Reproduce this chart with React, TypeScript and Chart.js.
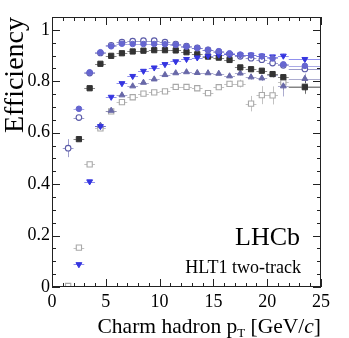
import { useEffect, useRef } from "react";
import { Chart, registerables } from "chart.js";

Chart.register(...registerables);

// ---- data ----
const binCenters = [1.5, 2.5, 3.5, 4.5, 5.5, 6.5, 7.5, 8.5, 9.5, 10.5, 11.5, 12.5, 13.5, 14.5, 15.5, 16.5, 17.5, 18.5, 19.5, 20.5, 21.5, 23.5];
const binHalfWidths = [0.5, 0.5, 0.5, 0.5, 0.5, 0.5, 0.5, 0.5, 0.5, 0.5, 0.5, 0.5, 0.5, 0.5, 0.5, 0.5, 0.5, 0.5, 0.5, 0.5, 0.5, 1.5];

const blueCircles = [null, 0.693, 0.835, 0.913, 0.936, 0.946, 0.945, 0.945, 0.945, 0.944, 0.942, 0.935, 0.929, 0.922, 0.917, 0.909, 0.904, 0.901, 0.897, 0.889, 0.866, 0.86];
const blueCirclesErr = [0, 0.006, 0.004, 0.003, 0.003, 0.003, 0.003, 0.003, 0.003, 0.003, 0.003, 0.003, 0.003, 0.003, 0.004, 0.004, 0.004, 0.005, 0.005, 0.006, 0.008, 0.008];

const downTriangles = [null, 0.088, 0.41, 0.625, 0.739, 0.792, 0.82, 0.84, 0.853, 0.866, 0.877, 0.886, 0.892, 0.899, 0.903, 0.905, 0.903, 0.903, 0.899, 0.896, 0.899, 0.886];
const downTrianglesErr = [0, 0.006, 0.005, 0.004, 0.004, 0.004, 0.004, 0.004, 0.004, 0.004, 0.004, 0.004, 0.004, 0.004, 0.005, 0.005, 0.005, 0.006, 0.006, 0.007, 0.008, 0.008];

const openCircles = [0.54, 0.659, 0.832, 0.91, 0.94, 0.952, 0.956, 0.958, 0.958, 0.952, 0.945, 0.937, 0.93, 0.922, 0.915, 0.905, 0.897, 0.89, 0.884, 0.871, 0.862, 0.848];
const openCirclesErr = [0.035, 0.008, 0.005, 0.004, 0.003, 0.003, 0.003, 0.003, 0.003, 0.003, 0.003, 0.003, 0.004, 0.004, 0.004, 0.005, 0.005, 0.006, 0.006, 0.007, 0.008, 0.008];

const blackSquares = [null, 0.575, 0.773, 0.868, 0.899, 0.909, 0.916, 0.919, 0.921, 0.921, 0.92, 0.913, 0.905, 0.896, 0.892, 0.883, 0.854, 0.847, 0.841, 0.828, 0.816, 0.777];
const blackSquaresErr = [0, 0.005, 0.004, 0.003, 0.003, 0.003, 0.003, 0.003, 0.003, 0.003, 0.003, 0.004, 0.004, 0.004, 0.005, 0.005, 0.006, 0.006, 0.007, 0.008, 0.012, 0.025];

const upTriangles = [null, null, null, 0.628, 0.686, 0.746, 0.781, 0.795, 0.808, 0.825, 0.832, 0.836, 0.833, 0.832, 0.83, 0.82, 0.831, 0.816, 0.812, 0.826, 0.781, 0.81];
const upTrianglesErr = [0, 0, 0, 0.006, 0.005, 0.005, 0.005, 0.005, 0.005, 0.005, 0.005, 0.005, 0.006, 0.006, 0.007, 0.008, 0.009, 0.01, 0.011, 0.012, 0.04, 0.02];

const openSquares = [0.004, 0.153, 0.477, 0.617, 0.683, 0.719, 0.738, 0.752, 0.757, 0.761, 0.778, 0.778, 0.773, 0.754, 0.777, 0.79, 0.791, 0.713, 0.746, 0.745, 0.796, 0.78];
const openSquaresErr = [0.004, 0.006, 0.006, 0.006, 0.006, 0.006, 0.006, 0.006, 0.006, 0.007, 0.007, 0.008, 0.008, 0.009, 0.01, 0.012, 0.015, 0.03, 0.035, 0.035, 0.03, 0.03];

const xTickValues = [0, 5, 10, 15, 20, 25];
const yTickValues = [0, 0.2, 0.4, 0.6, 0.8, 1];

const FONT = "'Liberation Serif', 'DejaVu Serif', serif";

function makePoints(values: (number | null)[], errs: number[]) {
  const pts: any[] = [];
  values.forEach((v, i) => {
    if (v !== null) pts.push({ x: binCenters[i], y: v, xe: binHalfWidths[i], ye: errs[i] });
  });
  return pts;
}

const errorBarPlugin = {
  id: "errorBars",
  beforeDatasetsDraw(chart: any) {
    const ctx = chart.ctx;
    const xs = chart.scales.x;
    const ys = chart.scales.y;
    ctx.save();
    ctx.beginPath();
    ctx.rect(chart.chartArea.left, chart.chartArea.top, chart.chartArea.width, chart.chartArea.height);
    ctx.clip();
    for (let i = chart.data.datasets.length - 1; i >= 0; i--) {
      const ds = chart.data.datasets[i];
      ctx.strokeStyle = ds.errColor;
      ctx.lineWidth = 1;
      for (const p of ds.data) {
        const px = xs.getPixelForValue(p.x);
        const py = ys.getPixelForValue(p.y);
        ctx.beginPath();
        ctx.moveTo(xs.getPixelForValue(p.x - p.xe), Math.round(py) + 0.5);
        ctx.lineTo(xs.getPixelForValue(p.x + p.xe), Math.round(py) + 0.5);
        ctx.moveTo(Math.round(px) + 0.5, ys.getPixelForValue(p.y - p.ye));
        ctx.lineTo(Math.round(px) + 0.5, ys.getPixelForValue(p.y + p.ye));
        ctx.stroke();
      }
    }
    ctx.restore();
  },
};

const framePlugin = {
  id: "rootFrame",
  afterDraw(chart: any) {
    const ctx = chart.ctx;
    const { left, right, top, bottom } = chart.chartArea;
    const xs = chart.scales.x;
    const ys = chart.scales.y;
    ctx.save();
    ctx.strokeStyle = "#222";
    ctx.lineWidth = 1;
    ctx.strokeRect(left + 0.5, top + 0.5, right - left - 1, bottom - top - 1);
    ctx.beginPath();
    for (let v = 0; v <= 25; v += 1) {
      const px = Math.round(xs.getPixelForValue(v)) + 0.5;
      const len = v % 5 === 0 ? 8 : 4;
      ctx.moveTo(px, bottom);
      ctx.lineTo(px, bottom - len);
      ctx.moveTo(px, top);
      ctx.lineTo(px, top + len);
    }
    for (let k = 0; k <= 21; k++) {
      const v = k * 0.05;
      const py = Math.round(ys.getPixelForValue(v)) + 0.5;
      const len = k % 4 === 0 ? 8 : 4;
      ctx.moveTo(left, py);
      ctx.lineTo(left + len, py);
      ctx.moveTo(right, py);
      ctx.lineTo(right - len, py);
    }
    ctx.stroke();

    // axis titles
    ctx.fillStyle = "#000";
    ctx.textBaseline = "alphabetic";
    // y title
    ctx.save();
    ctx.translate(23, top);
    ctx.rotate(-Math.PI / 2);
    ctx.font = `28px ${FONT}`;
    ctx.textAlign = "right";
    ctx.fillText("Efficiency", 0, 0);
    ctx.restore();

    // x title: Charm hadron p_T [GeV/c]
    const base = 333;
    const mainFont = `21.5px ${FONT}`;
    const subFont = `13px ${FONT}`;
    const italFont = `italic 21.5px ${FONT}`;
    const parts = [
      { t: "Charm hadron p", f: mainFont, dy: 0 },
      { t: "T", f: subFont, dy: 4 },
      { t: " [GeV/", f: mainFont, dy: 0 },
      { t: "c", f: italFont, dy: 0 },
      { t: "]", f: mainFont, dy: 0 },
    ];
    let total = 0;
    for (const p of parts) {
      ctx.font = p.f;
      total += ctx.measureText(p.t).width;
    }
    let cx = right - total;
    ctx.textAlign = "left";
    for (const p of parts) {
      ctx.font = p.f;
      ctx.fillText(p.t, cx, base + p.dy);
      cx += ctx.measureText(p.t).width;
    }

    // labels inside
    ctx.textAlign = "right";
    ctx.font = `26px ${FONT}`;
    ctx.fillText("LHCb", 300, 245);
    ctx.font = `18px ${FONT}`;
    ctx.fillText("HLT1 two-track", 301, 273);
    ctx.restore();
  },
};

function pointDs(label: string, values: (number | null)[], errs: number[], style: any) {
  return {
    label,
    data: makePoints(values, errs),
    showLine: false,
    ...style,
  };
}

export default function App() {
  const ref = useRef<HTMLCanvasElement | null>(null);
  useEffect(() => {
    if (!ref.current) return;
    const datasets: any[] = [
      pointDs("blue circles", blueCircles, blueCirclesErr, {
        pointStyle: "circle", pointRadius: 2.8, backgroundColor: "#6565d0", borderColor: "#6565d0", pointBorderWidth: 1, errColor: "rgba(101,101,208,0.55)",
      }),
      pointDs("down triangles", downTriangles, downTrianglesErr, {
        pointStyle: "triangle", pointRotation: 180, pointRadius: 3.4, backgroundColor: "#3535e0", borderColor: "#3535e0", pointBorderWidth: 1, errColor: "rgba(53,53,224,0.55)",
      }),
      pointDs("open circles", openCircles, openCirclesErr, {
        pointStyle: "circle", pointRadius: 2.8, backgroundColor: "#ffffff", borderColor: "#5a5aa8", pointBorderWidth: 1.1, errColor: "rgba(90,90,168,0.6)",
      }),
      pointDs("black squares", blackSquares, blackSquaresErr, {
        pointStyle: "rect", pointRadius: 3.7, backgroundColor: "#333333", borderColor: "#333333", pointBorderWidth: 1, errColor: "rgba(51,51,51,0.6)",
      }),
      pointDs("up triangles", upTriangles, upTrianglesErr, {
        pointStyle: "triangle", pointRadius: 3.4, backgroundColor: "#6868a8", borderColor: "#6868a8", pointBorderWidth: 1, errColor: "rgba(104,104,168,0.55)",
      }),
      pointDs("open squares", openSquares, openSquaresErr, {
        pointStyle: "rect", pointRadius: 3.7, backgroundColor: "#ffffff", borderColor: "#a8a8a8", pointBorderWidth: 1.1, errColor: "rgba(168,168,168,0.7)",
      }),
    ];
    const chart = new Chart(ref.current, {
      type: "scatter",
      data: { datasets },
      options: {
        animation: false,
        responsive: false,
        events: [],
        layout: { padding: { top: 17, right: 28, left: 0, bottom: 0 } },
        plugins: { legend: { display: false }, tooltip: { enabled: false } },
        scales: {
          x: {
            type: "linear",
            min: 0,
            max: 25,
            afterBuildTicks: (s: any) => { s.ticks = xTickValues.map((v) => ({ value: v })); },
            afterFit: (s: any) => { s.height = 51; },
            grid: { display: false, drawTicks: false, tickLength: 0 },
            border: { display: false },
            ticks: { padding: 4, color: "#000", font: { family: FONT, size: 18 }, maxRotation: 0, autoSkip: false, callback: (v: any) => String(v) },
          },
          y: {
            type: "linear",
            min: 0,
            max: 1.05,
            afterBuildTicks: (s: any) => { s.ticks = yTickValues.map((v) => ({ value: v })); },
            afterFit: (s: any) => { s.width = 52; },
            grid: { display: false, drawTicks: false, tickLength: 0 },
            border: { display: false },
            ticks: { padding: 2, color: "#000", font: { family: FONT, size: 18 }, autoSkip: false, callback: (v: any) => String(Math.round(v * 10) / 10) },
          },
        },
      },
      plugins: [errorBarPlugin, framePlugin],
    } as any);
    return () => chart.destroy();
  }, []);
  return (
    <div style={{ position: "absolute", left: 0, top: 0, width: 349, height: 338, background: "#fff" }}>
      <canvas ref={ref} width={349} height={338} style={{ display: "block" }} />
    </div>
  );
}
